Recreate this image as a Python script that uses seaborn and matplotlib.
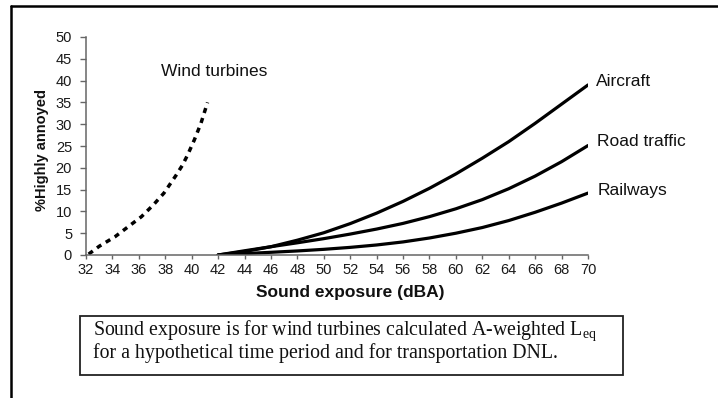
import matplotlib
matplotlib.use("Agg")
import matplotlib.pyplot as plt
import seaborn as sns
import pandas as pd
from matplotlib.patches import Rectangle
from matplotlib.lines import Line2D

# ---- data ----
wind_x = [32.2, 33.0, 34.2, 35.2, 36.2, 37.1, 37.9, 38.8, 39.3, 39.7, 40.2, 40.7, 41.2]
wind_y = [0.2, 2.0, 4.2, 6.5, 8.8, 11.5, 14.2, 18.2, 20.6, 23.0, 26.4, 30.2, 35.0]

transport_x = [42, 44, 46, 48, 50, 52, 54, 56, 58, 60, 62, 64, 66, 68, 70]
aircraft = [0, 0.8, 1.9, 3.4, 5.1, 7.2, 9.6, 12.3, 15.3, 18.6, 22.2, 26.0, 30.2, 34.6, 39.0]
road = [0, 0.97, 1.9, 2.8, 3.75, 4.8, 5.95, 7.25, 8.8, 10.6, 12.7, 15.2, 18.1, 21.4, 25.1]
railways = [0, 0.32, 0.62, 0.93, 1.3, 1.75, 2.3, 3.0, 3.9, 5.0, 6.3, 7.9, 9.8, 11.9, 14.2]

series_names = ["Aircraft", "Road traffic", "Railways"]
x_ticks = list(range(32, 72, 2))
y_ticks = list(range(0, 55, 5))

x_label = "Sound exposure (dBA)"
y_label = "%Highly annoyed"
caption_1 = "Sound exposure is for wind turbines calculated A-weighted L$_{\\mathregular{eq}}$"
caption_2 = "for a hypothetical time period and for transportation DNL."

# ---- style ----
sns.set_theme(style="ticks")
plt.rcParams["font.family"] = ["Liberation Sans", "DejaVu Sans"]
plt.rcParams["mathtext.default"] = "regular"

fig = plt.figure(figsize=(7.18, 3.98), dpi=100)
ax = fig.add_axes([86 / 718, 1 - 255 / 398, 502 / 718, 218 / 398])

wind_df = pd.DataFrame({"x": wind_x, "y": wind_y})
sns.lineplot(data=wind_df, x="x", y="y", ax=ax, color="black", lw=2.5,
             linestyle=(0, (1.5, 1.5)), sort=False)

for name, vals in zip(series_names, [aircraft, road, railways]):
    df = pd.DataFrame({"x": transport_x, "y": vals})
    sns.lineplot(data=df, x="x", y="y", ax=ax, color="black", lw=2.3, sort=False)

ax.set_xlim(32, 70)
ax.set_ylim(0, 50)
ax.set_xticks(x_ticks)
ax.set_yticks(y_ticks)
ax.set_xticklabels([str(t) for t in x_ticks], fontsize=10.5, color="#1a1a1a")
ax.set_yticklabels([str(t) for t in y_ticks], fontsize=10.5, color="#1a1a1a")
sns.despine(ax=ax)
for s in ["left", "bottom"]:
    ax.spines[s].set_color("#666666")
    ax.spines[s].set_linewidth(1.1)
ax.tick_params(axis="x", length=3, width=1.0, color="#666666", pad=3)
ax.tick_params(axis="y", length=4, width=1.0, color="#666666", pad=6)

ax.set_xlabel(x_label, fontsize=12.5, fontweight="bold", color="#111111")
ax.xaxis.set_label_coords((350 - 86) / 502, (255 - 293) / 218)
ax.xaxis.label.set_va("center")
ax.set_ylabel(y_label, fontsize=10.5, fontweight="bold", color="#111111")
ax.yaxis.set_label_coords((42 - 86) / 502, (255 - 150) / 218)
ax.yaxis.label.set_va("center")

# curve labels
ax.text(37.68, 42.0, "Wind turbines", fontsize=12.5, ha="left", va="center", color="#111111")
ax.text(70.6, 39.8, "Aircraft", fontsize=12.5, ha="left", va="center", color="#111111")
ax.text(70.7, 26.0, "Road traffic", fontsize=12.5, ha="left", va="center", color="#111111")
ax.text(70.7, 14.9, "Railways", fontsize=12.5, ha="left", va="center", color="#111111")

# caption box
fig.add_artist(Rectangle((80 / 718, 1 - 375 / 398), (623 - 80) / 718, (375 - 316) / 398,
                         transform=fig.transFigure, fill=False, lw=1.3, ec="#222222"))
fig.text(93 / 718, 1 - 331 / 398, caption_1, family=["Liberation Serif", "DejaVu Serif"],
         fontsize=14.3, ha="left", va="center", color="#111111")
fig.text(93 / 718, 1 - 353 / 398, caption_2, family=["Liberation Serif", "DejaVu Serif"],
         fontsize=14.3, ha="left", va="center", color="#111111")

# outer frame (top and left edges)
fig.add_artist(Line2D([11 / 718, 1], [1 - 6 / 398, 1 - 6 / 398], transform=fig.transFigure,
                      color="black", lw=1.8))
fig.add_artist(Line2D([11 / 718, 11 / 718], [0, 1 - 6 / 398], transform=fig.transFigure,
                      color="black", lw=1.8))

fig.savefig("out.png", dpi=100)
